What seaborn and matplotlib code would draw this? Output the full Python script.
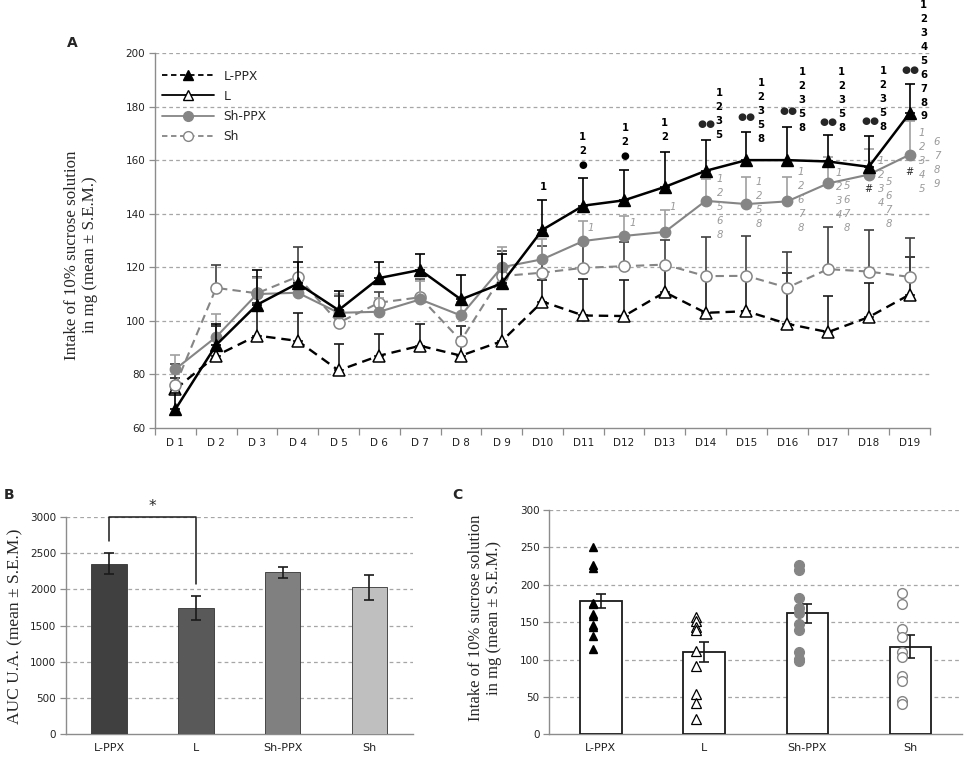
import matplotlib
matplotlib.use("Agg")
import matplotlib.pyplot as plt
from matplotlib.lines import Line2D
import numpy as np
import seaborn as sns

# ---- data: panel A (daily intake, mean and upper SEM) ----
days = ["D 1", "D 2", "D 3", "D 4", "D 5", "D 6", "D 7", "D 8", "D 9", "D10",
        "D11", "D12", "D13", "D14", "D15", "D16", "D17", "D18", "D19"]
lppx_mean = [67, 91, 106, 114, 104, 116, 119, 108, 114, 134, 143, 145, 150, 156,
             160, 160, 159.5, 157.5, 177.5]
lppx_sem = [6, 8, 13, 8, 7, 6, 6, 9, 11, 11, 10.5, 11.5, 13, 11.5, 10.5, 12.5, 10, 11.5, 11]
l_mean = [74.5, 87, 94.5, 92.5, 81.5, 87, 90.7, 87, 92.4, 107.2, 102, 101.8, 110.7, 103,
          103.6, 98.9, 95.8, 101.4, 109.8]
l_sem = [4, 11, 12, 10.3, 10, 8, 8, 11, 12, 8, 13.6, 13.4, 10, 13, 13, 19, 13.5, 12.8, 14]
shppx_mean = [82, 94, 110, 110.5, 103, 103.4, 108, 102, 120, 123, 129.8, 131.7, 133.2,
              144.8, 143.6, 144.6, 151.3, 154.6, 162]
shppx_sem = [5.4, 8.5, 6, 4, 7, 5, 7, 5, 7.4, 7.5, 7.5, 7.3, 8, 8, 10, 9, 10, 9.6, 12.6]
sh_mean = [76, 112.3, 110.3, 116.5, 99.3, 106.8, 108.8, 92.6, 116.7, 118, 119.8, 120.4,
           121, 116.7, 116.8, 112.4, 119.3, 118.4, 116.4]
sh_sem = [8, 8.4, 6, 11, 10, 4, 7, 5.5, 9.4, 10, 9, 9, 9, 14.6, 15, 13.4, 15.6, 15.5, 14.7]

# ---- data: panel B (AUC) ----
groups = ["L-PPX", "L", "Sh-PPX", "Sh"]
auc_mean = [2352, 1737, 2233, 2026]
auc_sem = [145, 165, 75, 175]

# ---- data: panel C (day 19 intake, individual animals) ----
d19_mean = [178.3, 109.7, 161.8, 117.2]
d19_sem = [10, 13.4, 12.5, 15]
lppx_points = [250, 227, 223, 176, 174, 161, 158, 146, 143, 131, 114]
l_points = [157, 151, 144, 140, 111, 91, 54, 42, 20]
shppx_points = [226.5, 219.8, 182.8, 169.4, 162.7, 147, 139.5, 110.6, 100.3, 98.5]
sh_points = [188.6, 173.9, 140.4, 129.7, 109.7, 103.9, 78, 71.8, 45, 40.6]

sns.set_theme(style="white")
plt.rcParams['font.family'] = ['DejaVu Sans']

GRID = "#a6a6a6"
SPINE = "#8c8c8c"
GRAY = "#858585"

fig = plt.figure(figsize=(9.64, 7.59), dpi=100)
axA = fig.add_axes([0.1608, 0.4361, 0.8039, 0.4941])
axB = fig.add_axes([0.0682, 0.0325, 0.3599, 0.2867])
axC = fig.add_axes([0.5698, 0.0325, 0.4282, 0.2956])


def style_axis(ax, yticks):
    ax.set_yticks(yticks)
    ax.set_ylim(yticks[0], yticks[-1])
    for y in yticks[1:]:
        ax.axhline(y, color=GRID, lw=0.9, ls=(0, (3, 2.5)), zorder=0)
    for side in ["top", "right"]:
        ax.spines[side].set_visible(False)
    for side in ["left", "bottom"]:
        ax.spines[side].set_color(SPINE)
        ax.spines[side].set_linewidth(1.0)
    ax.tick_params(axis="y", length=4, width=0.9, color=SPINE, labelsize=7.5,
                   labelcolor="#222222", pad=3, left=True)
    ax.grid(False)


# ---------------- panel A ----------------
x = np.arange(len(days))
style_axis(axA, list(range(60, 201, 20)))
axA.set_xlim(-0.5, len(days) - 0.5)
axA.set_xticks(x)
axA.set_xticklabels(days)
axA.set_xticks(np.arange(-0.5, len(days)), minor=True)
axA.tick_params(axis="x", which="major", length=0, labelsize=7.5, labelcolor="#222222", pad=7)
axA.tick_params(axis="x", which="minor", length=5, width=0.9, color=SPINE, bottom=True)

series = [
    (l_mean, l_sem, dict(color="black", ls=(0, (4, 2.5)), lw=1.7, marker="^", ms=8,
                         mfc="white", mec="black", mew=1.1), "#1a1a1a"),
    (sh_mean, sh_sem, dict(color=GRAY, ls=(0, (4, 2.5)), lw=1.5, marker="o", ms=8,
                           mfc="white", mec=GRAY, mew=1.1), "#404040"),
    (shppx_mean, shppx_sem, dict(color=GRAY, ls="-", lw=1.5, marker="o", ms=7.5,
                                 mfc=GRAY, mec=GRAY), "#a0a0a0"),
    (lppx_mean, lppx_sem, dict(color="black", ls="-", lw=1.8, marker="^", ms=8,
                               mfc="black", mec="black"), "black"),
]
z = 2
for mean, sem, kw, ecol in series:
    axA.errorbar(x, mean, yerr=[np.zeros(len(sem)), sem], fmt="none", ecolor=ecol,
                 elinewidth=1.2, capsize=3.5, capthick=1.2, zorder=z)
    axA.plot(x, mean, zorder=z + 1, **kw)
    z += 2

handles = [
    Line2D([], [], color="black", ls=(0, (3, 2)), lw=1.3, marker="^", ms=7.5, mfc="black", mec="black"),
    Line2D([], [], color="black", ls="-", lw=1.3, marker="^", ms=7.5, mfc="white", mec="black"),
    Line2D([], [], color=GRAY, ls="-", lw=1.3, marker="o", ms=7, mfc=GRAY, mec=GRAY),
    Line2D([], [], color=GRAY, ls=(0, (3, 2)), lw=1.3, marker="o", ms=7, mfc="white", mec=GRAY),
]
axA.legend(handles, groups, loc="upper left", bbox_to_anchor=(0.0, 0.975), frameon=False,
           fontsize=8.8, handlelength=4.2, labelspacing=0.58, handletextpad=0.8,
           borderaxespad=0.2)

# significance marks
def stack(ax, xpos, ytop, chars, color="black", style="normal", step=5.2, size=7.3,
          weight="normal"):
    for i, c in enumerate(chars):
        ax.text(xpos, ytop - i * step, c, color=color, style=style, fontsize=size,
                fontweight=weight, ha="center", va="center", clip_on=False, zorder=20)

black_marks = [
    (9.01, 150.0, "1"), (9.99, 168.6, "12●"), (11.02, 172.1, "12●"), (12.0, 173.9, "12"),
    (13.33, 185.1, "1235"), (14.36, 188.8, "12358"), (15.36, 192.9, "12358"),
    (16.34, 192.9, "12358"), (17.35, 193.3, "12358"), (18.35, 217.9, "123456789"),
]
for xp, yp, s in black_marks:
    stack(axA, xp, yp, s, weight="semibold")
for xp, yp in [(13.01, 173.5), (14.01, 176.1), (15.02, 178.4), (16.0, 174.2),
               (17.03, 174.6), (18.01, 193.7)]:
    axA.text(xp, yp, "●●", fontsize=7.5, ha="center", va="center", clip_on=False, zorder=20)

gray_marks = [
    (10.19, 134.7, "1"), (11.22, 136.5, "1"), (12.2, 142.5, "1"), (13.35, 153.0, "12568"),
    (14.31, 151.8, "1258"), (15.34, 155.6, "12678"), (16.27, 155.2, "1234"),
    (16.46, 150.4, "5678"), (17.3, 159.7, "1234"), (17.49, 151.8, "5678"),
    (18.3, 170.1, "12345"), (18.67, 166.8, "6789"),
]
for xp, yp, s in gray_marks:
    stack(axA, xp, yp, s, color="#9a9a9a", style="italic")
for xp, yp in [(17.0, 149.2), (18.0, 155.6)]:
    axA.text(xp, yp, "#", fontsize=7, ha="center", va="center", zorder=20)

# ---------------- panel B ----------------
bar_colors = ["#404040", "#595959", "#808080", "#bfbfbf"]
style_axis(axB, list(range(0, 3001, 500)))
sns.barplot(x=groups, y=auc_mean, hue=groups, palette=bar_colors, legend=False,
            width=0.41, edgecolor="#333333", linewidth=0.6, ax=axB, zorder=3)
axB.errorbar(range(4), auc_mean, yerr=auc_sem, fmt="none", ecolor="#1a1a1a",
             elinewidth=1.2, capsize=3.5, capthick=1.2, zorder=4)
axB.set_xlim(-0.5, 3.5)
axB.set_ylim(0, 3000)
axB.tick_params(axis="x", length=0, labelsize=8, labelcolor="#222222", pad=6)
axB.set_xlabel("")
axB.set_ylabel("")
axB.plot([0, 0, 1, 1], [2665, 3000, 3000, 2067], color="#1a1a1a", lw=1.1,
         clip_on=False, zorder=5)
axB.text(0.5, 3140, "*", fontsize=11, ha="center", va="center", clip_on=False)

# ---------------- panel C ----------------
style_axis(axC, list(range(0, 301, 50)))
sns.barplot(x=groups, y=d19_mean, color="white", width=0.40, edgecolor="#1a1a1a",
            linewidth=1.3, ax=axC, zorder=3)
axC.errorbar(range(4), d19_mean, yerr=d19_sem, fmt="none", ecolor="#1a1a1a",
             elinewidth=1.2, capsize=3.5, capthick=1.2, zorder=4)
point_sets = [
    (lppx_points, dict(marker="^", ms=6, mfc="black", mec="black")),
    (l_points, dict(marker="^", ms=6.5, mfc="white", mec="black", mew=0.9)),
    (shppx_points, dict(marker="o", ms=7, mfc=GRAY, mec=GRAY)),
    (sh_points, dict(marker="o", ms=7, mfc="white", mec=GRAY, mew=1.0)),
]
for i, (pts, kw) in enumerate(point_sets):
    axC.plot(np.full(len(pts), i - 0.08), pts, ls="none", zorder=5, **kw)
axC.set_xlim(-0.5, 3.5)
axC.set_ylim(0, 300)
axC.tick_params(axis="x", length=0, labelsize=8, labelcolor="#222222", pad=6)
axC.set_xlabel("")
axC.set_ylabel("")

# ---------------- labels ----------------
serif = ["Liberation Serif", "DejaVu Serif"]
ylab = "Intake of 10% sucrose solution\nin mg (mean ± S.E.M.)"
fig.text(0.084, 0.664, ylab, rotation=90, ha="center", va="center", fontsize=12.2,
         family=serif, linespacing=1.2)
fig.text(0.016, 0.175, "AUC U.A. (mean ± S.E.M.)", rotation=90, ha="center",
         va="center", fontsize=12.5, family=serif)
fig.text(0.503, 0.186, ylab, rotation=90, ha="center", va="center", fontsize=12,
         family=serif, linespacing=1.2)
for lbl, fx, fy in [("A", 0.0747, 0.9433), ("B", 0.0093, 0.3478), ("C", 0.474, 0.3478)]:
    fig.text(fx, fy, lbl, fontsize=10, fontweight="bold", ha="center", va="center")

fig.savefig("out.png", dpi=100)
